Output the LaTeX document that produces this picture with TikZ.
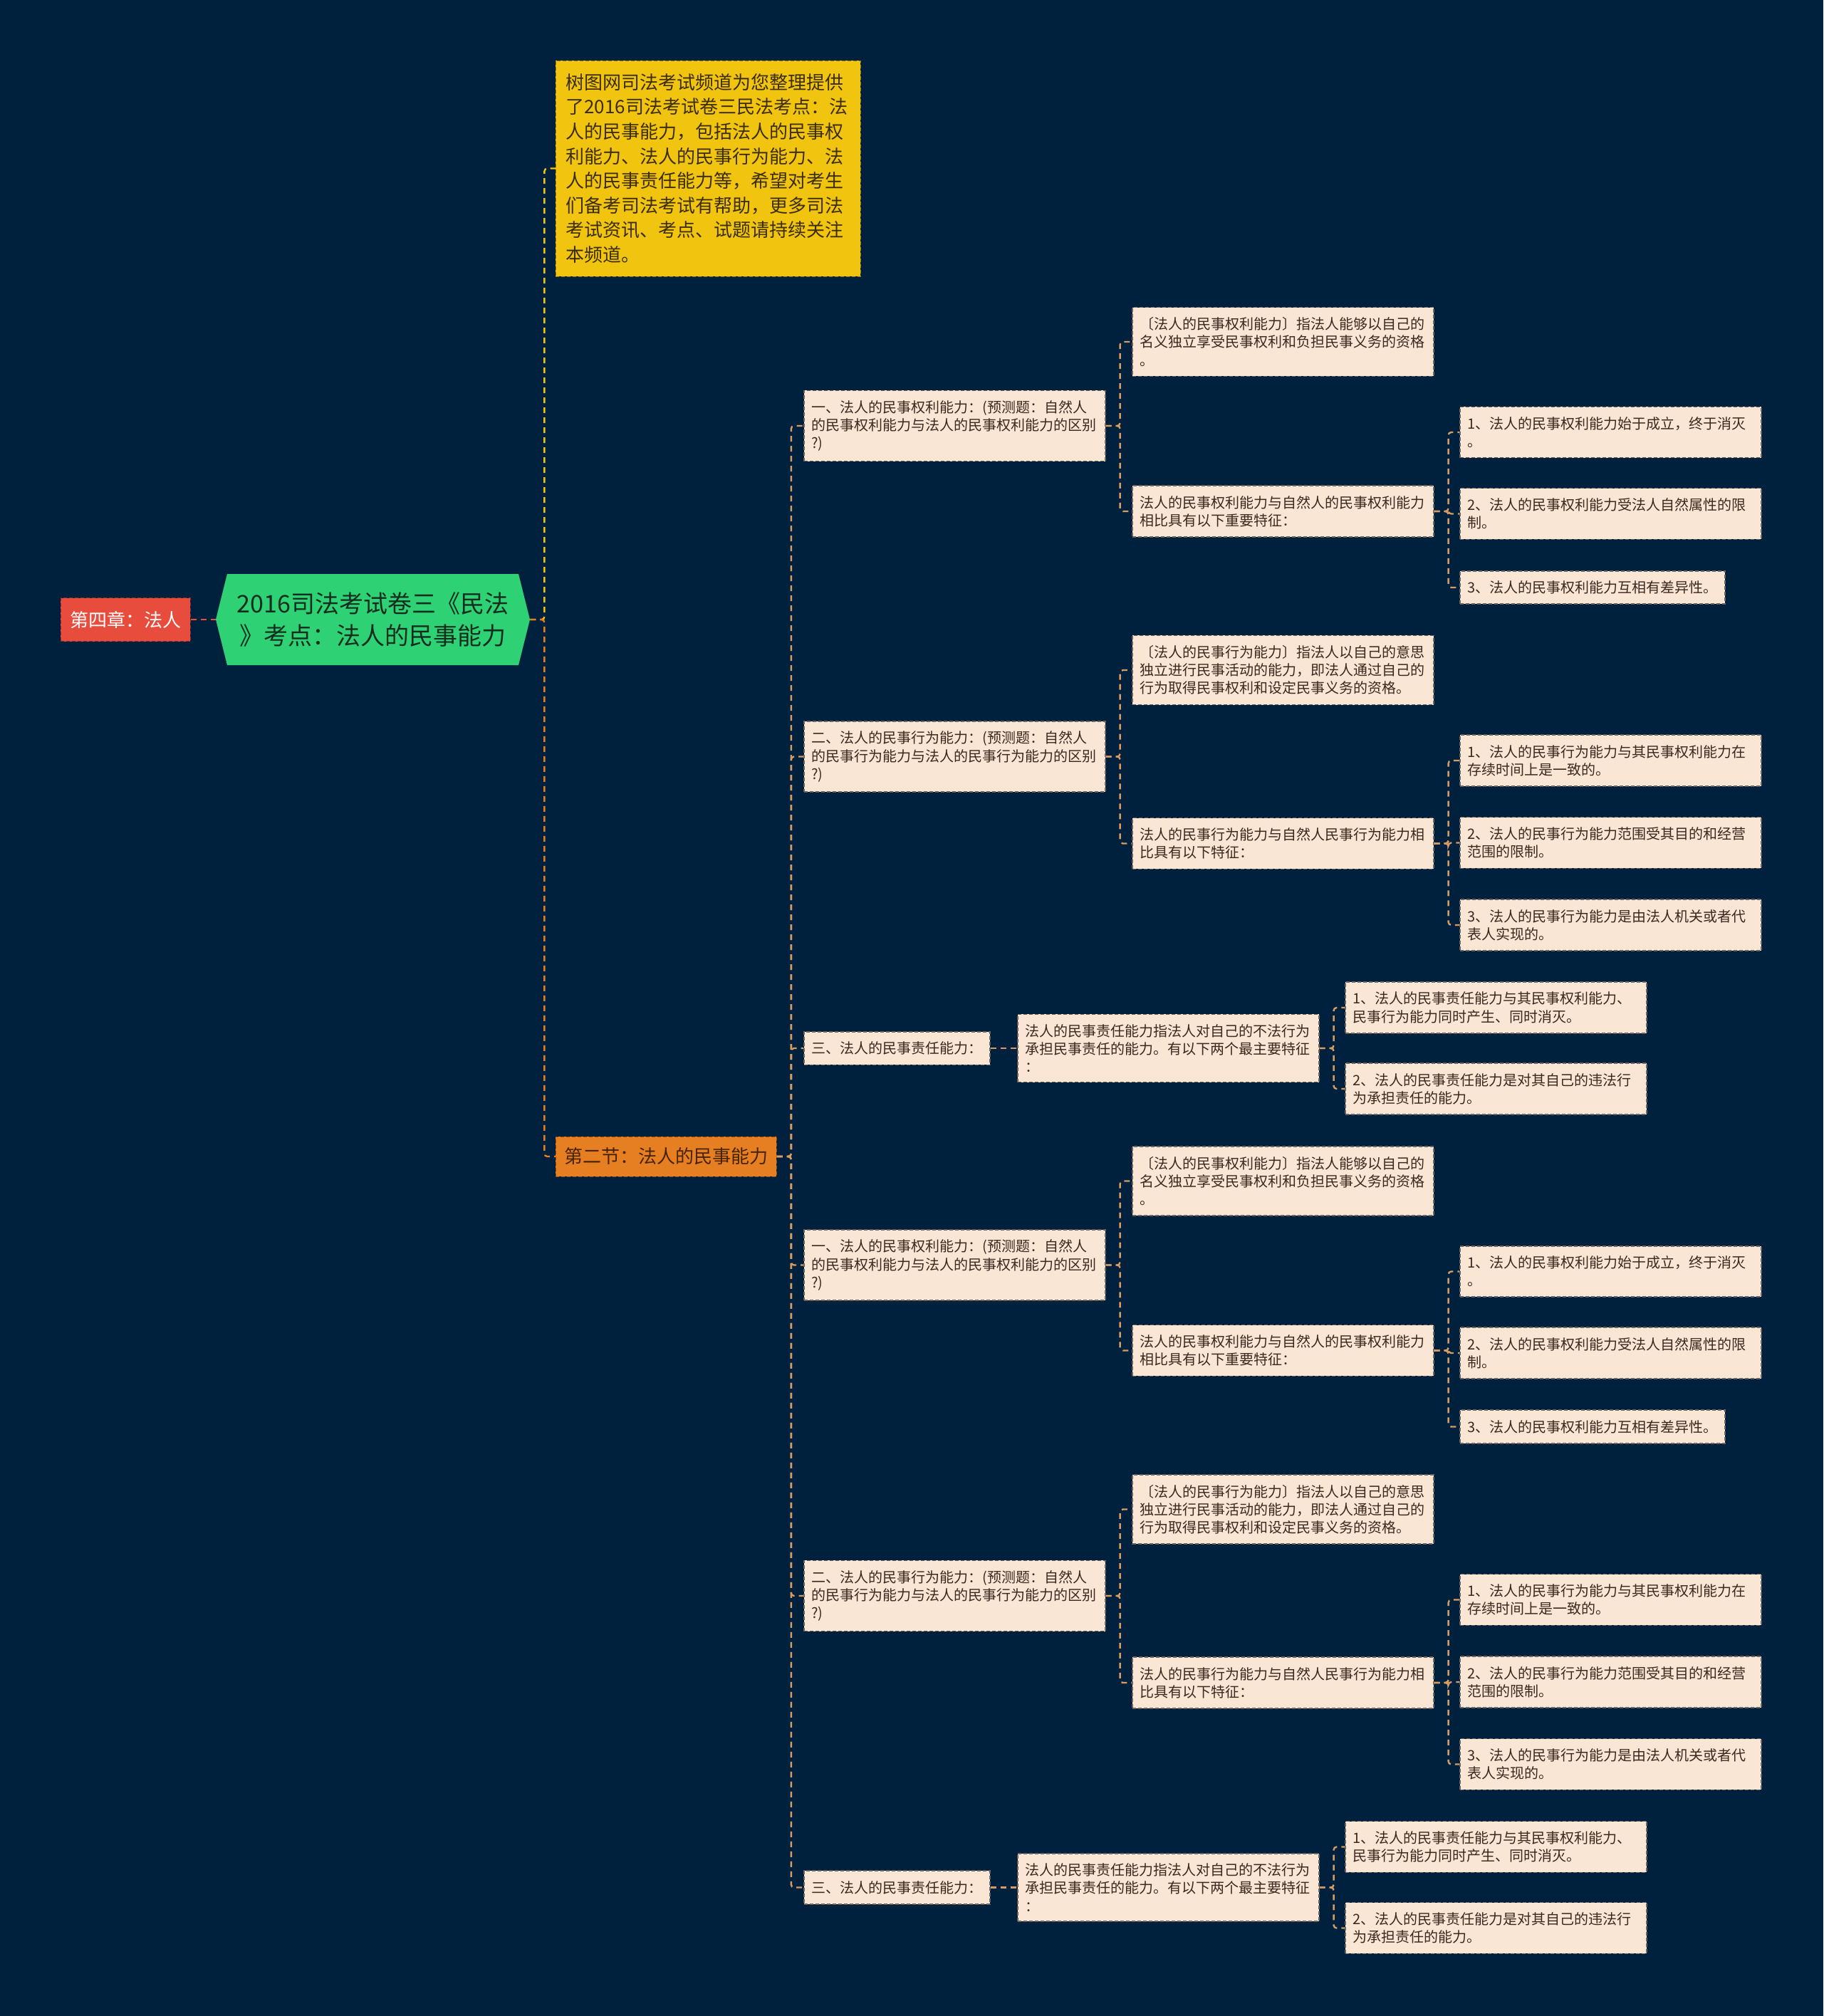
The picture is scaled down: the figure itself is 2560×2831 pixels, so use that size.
\documentclass[tikz,border=0pt]{standalone}
\usepackage{fontspec}
\setmainfont{Noto Sans CJK SC}
\usepackage{tikz}
\usetikzlibrary{shapes.symbols, positioning}
\definecolor{bgnavy}{RGB}{0,33,61}
\definecolor{chapred}{RGB}{231,76,60}
\definecolor{topicgreen}{RGB}{46,209,115}
\definecolor{topictext}{RGB}{20,45,30}
\definecolor{introyel}{RGB}{241,196,15}
\definecolor{introtext}{RGB}{60,45,10}
\definecolor{sectorange}{RGB}{230,126,34}
\definecolor{secttext}{RGB}{70,35,10}
\definecolor{cardfill}{RGB}{250,230,212}
\definecolor{cardtext}{RGB}{60,40,30}
\definecolor{cardline}{RGB}{110,100,95}
\definecolor{linktan}{RGB}{215,155,100}
\tikzset{
  chap/.style={rectangle, draw=chapred!60!black, dash pattern=on 2.5pt off 1.5pt, fill=chapred,
    text=white, font=\fontsize{13}{16}\selectfont, minimum width=91pt, minimum height=30.5pt},
  topic/.style={signal, signal to=east and west, signal pointer angle=152, fill=topicgreen,
    minimum width=220.5pt, minimum height=64pt, text=topictext, align=center,
    font=\fontsize{17}{22.5}\selectfont},
  intro/.style={rectangle, draw=introyel!60!black, dash pattern=on 2.5pt off 1.5pt, fill=introyel,
    text=introtext, font=\fontsize{13}{17.3}\selectfont, text width=200pt, align=left,
    inner xsep=7pt, minimum height=151.5pt},
  sect/.style={rectangle, draw=sectorange!60!black, dash pattern=on 2.5pt off 1.5pt, fill=sectorange,
    text=secttext, font=\fontsize{13}{16}\selectfont, minimum width=155pt, minimum height=28pt},
  card/.style={rectangle, draw=cardline, line width=0.8pt, dash pattern=on 2.5pt off 1.5pt,
    fill=cardfill, text=cardtext, font=\fontsize{10}{12.6}\selectfont, text width=201pt,
    align=left, inner xsep=5.25pt, inner ysep=7pt},
  tag/.style={rectangle, draw=cardline, line width=0.8pt, dash pattern=on 2.5pt off 1.5pt,
    fill=cardfill, text=cardtext, font=\fontsize{10}{12.6}\selectfont,
    inner xsep=5.25pt, inner ysep=7pt},
  link/.style={draw=linktan, line width=1.2pt, dash pattern=on 4pt off 3pt, rounded corners=2pt}
}
\begin{document}
\begin{tikzpicture}[x=0.5pt, y=-0.5pt, every node/.append style={anchor=west}]
  \useasboundingbox (0,0) rectangle (2560,2831);
  \fill[bgnavy] (0,0) rectangle (2560,2831);

  \node[chap] (ch) at (85,870) {第四章：法人};
  \node[topic, anchor=center] (root) at (523.5,870) {2016司法考试卷三《民法\\》考点：法人的民事能力};
  \node[intro] (intro) at (780,236.5) {树图网司法考试频道为您整理提供\\了2016司法考试卷三民法考点：法\\人的民事能力，包括法人的民事权\\利能力、法人的民事行为能力、法\\人的民事责任能力等，希望对考生\\们备考司法考试有帮助，更多司法\\考试资讯、考点、试题请持续关注\\本频道。};
  \node[sect] (sec) at (780,1624) {第二节：法人的民事能力};
  \draw[link, draw=chapred] (ch.east) -- (root.west);
  \draw[link, draw=introyel] (root.east) -- ++(20,0) |- (intro.west);
  \draw[link, draw=sectorange] (root.east) -- ++(20,0) |- (sec.west);

  % the same three items appear twice under the section
  \foreach \s/\dy in {a/0, b/1178.5} {
    \node[card] (\s1) at (1128,598+\dy) {一、法人的民事权利能力：(预测题：自然人\\的民事权利能力与法人的民事权利能力的区别\\?)};
    \node[card] (\s1a) at (1589,480+\dy) {〔法人的民事权利能力〕指法人能够以自己的\\名义独立享受民事权利和负担民事义务的资格\\。};
    \node[card] (\s1b) at (1589,718+\dy) {法人的民事权利能力与自然人的民事权利能力\\相比具有以下重要特征：};
    \node[card] (\s1b1) at (2049,607+\dy) {1、法人的民事权利能力始于成立，终于消灭\\。};
    \node[card] (\s1b2) at (2049,721.5+\dy) {2、法人的民事权利能力受法人自然属性的限\\制。};
    \node[tag] (\s1b3) at (2049,825+\dy) {3、法人的民事权利能力互相有差异性。};

    \node[card] (\s2) at (1128,1062.5+\dy) {二、法人的民事行为能力：(预测题：自然人\\的民事行为能力与法人的民事行为能力的区别\\?)};
    \node[card] (\s2a) at (1589,941+\dy) {〔法人的民事行为能力〕指法人以自己的意思\\独立进行民事活动的能力，即法人通过自己的\\行为取得民事权利和设定民事义务的资格。};
    \node[card] (\s2b) at (1589,1184.5+\dy) {法人的民事行为能力与自然人民事行为能力相\\比具有以下特征：};
    \node[card] (\s2b1) at (2049,1068+\dy) {1、法人的民事行为能力与其民事权利能力在\\存续时间上是一致的。};
    \node[card] (\s2b2) at (2049,1183.5+\dy) {2、法人的民事行为能力范围受其目的和经营\\范围的限制。};
    \node[card] (\s2b3) at (2049,1299+\dy) {3、法人的民事行为能力是由法人机关或者代\\表人实现的。};

    \node[tag] (\s3) at (1128,1472+\dy) {三、法人的民事责任能力：};
    \node[card] (\s3a) at (1428,1472+\dy) {法人的民事责任能力指法人对自己的不法行为\\承担民事责任的能力。有以下两个最主要特征\\：};
    \node[card] (\s3a1) at (1888,1415+\dy) {1、法人的民事责任能力与其民事权利能力、\\民事行为能力同时产生、同时消灭。};
    \node[card] (\s3a2) at (1888,1529+\dy) {2、法人的民事责任能力是对其自己的违法行\\为承担责任的能力。};

    \foreach \k in {1,2,3}
      \draw[link] (sec.east) -- ++(20,0) |- (\s\k.west);
    \foreach \k in {1,2} {
      \draw[link] (\s\k.east) -- ++(20,0) |- (\s\k a.west);
      \draw[link] (\s\k.east) -- ++(20,0) |- (\s\k b.west);
      \foreach \c in {1,2,3}
        \draw[link] (\s\k b.east) -- ++(20,0) |- (\s\k b\c.west);
    }
    \draw[link] (\s3.east) -- (\s3a.west);
    \draw[link] (\s3a.east) -- ++(20,0) |- (\s3a1.west);
    \draw[link] (\s3a.east) -- ++(20,0) |- (\s3a2.west);
  }
\end{tikzpicture}
\end{document}
